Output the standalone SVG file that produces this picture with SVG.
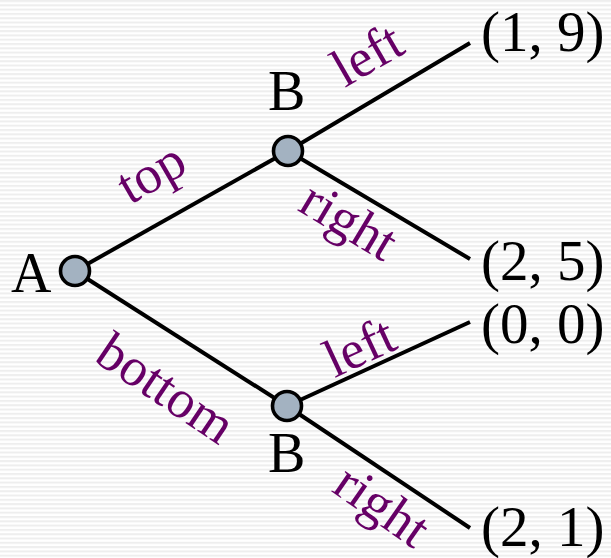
<svg xmlns="http://www.w3.org/2000/svg" width="611" height="558" viewBox="0 0 611 558">
<defs>
<pattern id="stripes" patternUnits="userSpaceOnUse" x="0" y="0" width="8" height="4.3">
<rect x="0" y="0" width="8" height="4.3" fill="#ffffff"/>
<rect x="0" y="0" width="8" height="2" fill="#eeeeee"/>
</pattern>
</defs>
<style>
.edge{stroke:#000;stroke-width:4;fill:none}
.node{fill:#a3b2c1;stroke:#000;stroke-width:3.6}
.t{font-family:"Liberation Serif","Times New Roman",serif;fill:#000;font-size:56px}
.leaf{font-family:"Liberation Serif","Times New Roman",serif;fill:#000;font-size:57px}
.lab{font-family:"Liberation Serif","Times New Roman",serif;fill:#660066;font-size:54px;text-anchor:middle}
</style>
<rect width="611" height="558" fill="url(#stripes)"/>
<g id="connectors">
<line class="edge" x1="75" y1="271" x2="288" y2="151"/>
<line class="edge" x1="75" y1="271" x2="287" y2="406"/>
<line class="edge" x1="288" y1="151" x2="470" y2="43"/>
<line class="edge" x1="288" y1="151" x2="470" y2="259"/>
<line class="edge" x1="287" y1="406" x2="470" y2="322"/>
<line class="edge" x1="287" y1="406" x2="470" y2="528"/>
</g>
<g id="edge-labels">
<text class="lab" transform="translate(160,188) rotate(-30)">top</text>
<text class="lab" transform="translate(156,403) rotate(34)">bottom</text>
<text class="lab" transform="translate(376,70) rotate(-30)">left</text>
<text class="lab" transform="translate(340,236) rotate(31)">right</text>
<text class="lab" transform="translate(367,363) rotate(-25)">left</text>
<text class="lab" transform="translate(372,520) rotate(35)">right</text>
</g>
<g id="nodeA">
<circle class="node" cx="75" cy="271" r="14.5"/>
<text class="t" x="11" y="292">A</text>
</g>
<g id="nodeB1">
<circle class="node" cx="288" cy="151" r="14.5"/>
<text class="t" x="268" y="110">B</text>
</g>
<g id="nodeB2">
<circle class="node" cx="287" cy="406" r="14.5"/>
<text class="t" x="268" y="472">B</text>
</g>
<g id="leaf1"><text class="leaf" x="481" y="51">(1, 9)</text></g>
<g id="leaf2"><text class="leaf" x="481" y="280">(2, 5)</text></g>
<g id="leaf3"><text class="leaf" x="481" y="343">(0, 0)</text></g>
<g id="leaf4"><text class="leaf" x="481" y="546">(2, 1)</text></g>
</svg>
